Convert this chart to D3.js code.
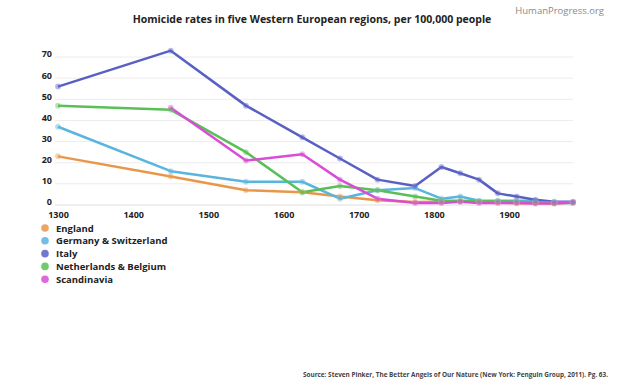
<!DOCTYPE html>
<html>
<head>
<meta charset="utf-8">
<script src="https://cdn.jsdelivr.net/npm/d3@7"></script>
<style>
	body{margin:0;background:#fff;}
	text{font-family:"Open Sans",sans-serif;}
</style>
</head>
<body>
<div id="chart"></div>
<script>
var years = [1300,1450,1550,1625,1675,1725,1775,1810,1835,1860,1885,1910,1935,1960,1985];
var england = [23,13.5,7,6,4,2.3,1.4,1.5,1.7,1.5,1.3,0.8,0.8,0.6,1.2];
var germany = [37,16,11,11,3,7,8,3,4,2,2,2,2,1,1];
var italy = [56,73,47,32,22,12,9,18,15,12,5.5,4,2.5,1.5,1.5];
var netherlands = [47,45,25,6,9,7,4,2,2,1.8,1.8,1.5,1.3,1.2,1.3];
var scandinavia = [null,46,21,24,12,3,1,1,1.5,1,1,1,0.7,0.8,1.2];
var names = ["England","Germany & Switzerland","Italy","Netherlands & Belgium","Scandinavia"];
var colors = ["#e8974a","#5ab4de","#5960c4","#5bbf57","#d94dd6"];
var yTicks = [0,10,20,30,40,50,60,70];
var xTicks = [1300,1400,1500,1600,1700,1800,1900];

var W = 624, H = 386;
var svg = d3.select("#chart").append("svg")
	.attr("width",W).attr("height",H);

var x = d3.scaleLinear().domain([1300,1985]).range([58,573]);
var y = d3.scaleLinear().domain([0,70]).range([205,57]);

// title + brand
svg.append("text").attr("x",312).attr("y",23).attr("text-anchor","middle")
	.attr("font-size","10.5px").attr("font-weight","bold").attr("fill","#222")
	.text("Homicide rates in five Western European regions, per 100,000 people");
svg.append("text").attr("x",604).attr("y",14).attr("text-anchor","end")
	.attr("font-size","9.5px").attr("fill","#8a8a8a").attr("font-family","Liberation Sans, sans-serif")
	.text("HumanProgress.org");

// grid
svg.append("g").selectAll("line").data(yTicks).enter().append("line")
	.attr("x1",55).attr("x2",573)
	.attr("y1",function(d){return y(d);}).attr("y2",function(d){return y(d);})
	.attr("stroke",function(d){return d==0?"#ddd":"#ececec";}).attr("stroke-width",1);

var yAxis = svg.append("g").attr("transform","translate(52,-3)")
	.call(d3.axisLeft(y).tickValues(yTicks).tickSize(0).tickPadding(0));
yAxis.select(".domain").remove();
yAxis.selectAll("text").attr("font-size","9px").attr("font-weight","bold").attr("fill","#222")
	.attr("font-family","Open Sans, sans-serif");

var xAxis = svg.append("g").attr("transform","translate(0,211)")
	.call(d3.axisBottom(x).tickValues(xTicks).tickFormat(d3.format("d")).tickSize(0).tickPadding(1));
xAxis.select(".domain").remove();
xAxis.selectAll("text").attr("font-size","9px").attr("font-weight","bold").attr("fill","#222")
	.attr("font-family","Open Sans, sans-serif");

// series
var series = [england,germany,italy,netherlands,scandinavia].map(function(vals,i){
	return {name:names[i],color:colors[i],pts:years.map(function(yr,j){return {yr:yr,v:vals[j]};}).filter(function(p){return p.v!=null;})};
});
var line = d3.line().x(function(d){return x(d.yr);}).y(function(d){return y(d.v);});
var g = svg.append("g");
series.forEach(function(s){
	g.append("path").datum(s.pts).attr("d",line)
		.attr("fill","none").attr("stroke",s.color).attr("stroke-width",2.5)
		.attr("stroke-linejoin","round");
});
series.forEach(function(s){
	g.selectAll(null).data(s.pts).enter().append("circle")
		.attr("cx",function(d){return x(d.yr);}).attr("cy",function(d){return y(d.v);})
		.attr("r",3).attr("fill",s.color).attr("opacity",0.45)
		.attr("stroke","#fff").attr("stroke-opacity",0.4).attr("stroke-width",0.5);
});

// legend
var lg = svg.append("g").selectAll("g").data(series).enter().append("g")
	.attr("transform",function(d,i){return "translate(45,"+(228+i*12.8)+")";});
lg.append("circle").attr("r",3.8).attr("fill",function(d){return d.color;}).attr("opacity",0.85);
lg.append("text").attr("x",11).attr("y",3.5).attr("font-size","9.5px").attr("font-weight","bold")
	.attr("fill","#222").text(function(d){return d.name;});

// source
svg.append("text").attr("x",608).attr("y",377).attr("text-anchor","end")
	.attr("font-size","6.4px").attr("font-weight","bold").attr("fill","#444")
	.attr("font-family","Liberation Sans, sans-serif")
	.text("Source: Steven Pinker, The Better Angels of Our Nature (New York: Penguin Group, 2011). Pg. 63.");
</script>
</body>
</html>
